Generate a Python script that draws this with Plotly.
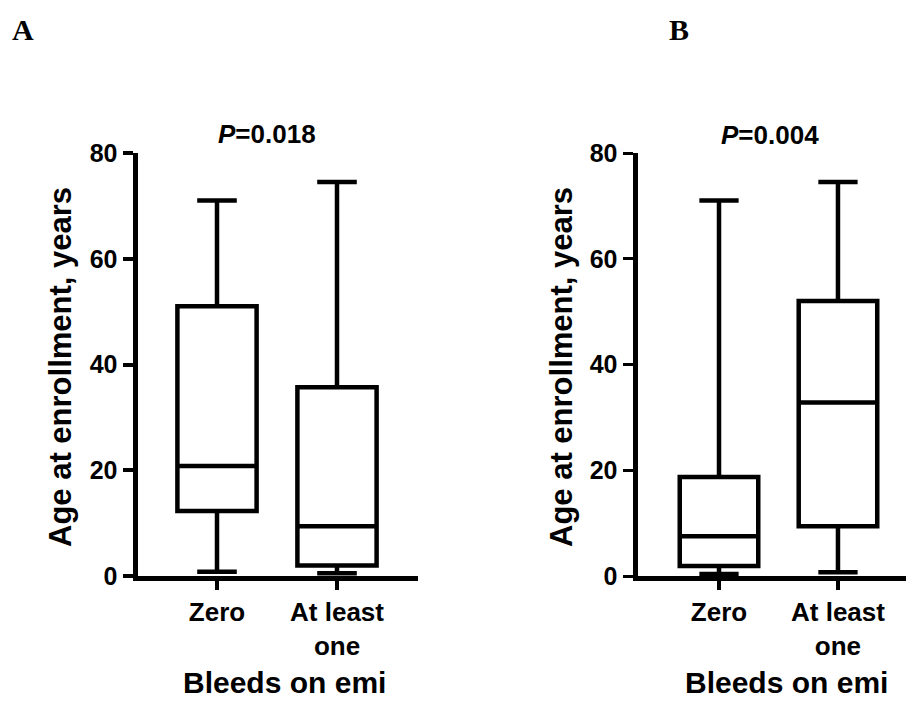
import plotly.graph_objects as go

# ---- data ----
categories = ["Zero", "At least one"]
tick_labels = ["Zero", "At least<br>one"]

# Panel A
a_min = [0.8, 0.5]
a_q1 = [12.3, 2.0]
a_median = [20.8, 9.4]
a_q3 = [51.0, 35.7]
a_max = [71.0, 74.5]
a_p = "<i>P</i>=0.018"

# Panel B
b_min = [0.4, 0.7]
b_q1 = [1.9, 9.4]
b_median = [7.5, 32.8]
b_q3 = [18.7, 52.0]
b_max = [71.0, 74.5]
b_p = "<i>P</i>=0.004"

y_ticks = [0, 20, 40, 60, 80]

FONT = "Liberation Sans, Arial, sans-serif"
SERIF = "Liberation Serif, Times New Roman, serif"
OFF = 8                      # page body margin of the html page
W, H = 914 - OFF, 702 - OFF  # figure size
TOP, BOTTOM = 145, 568       # plot area pixels (figure coords)

fig = go.Figure()

def add_box(xa, ya, lo, q1, med, q3, hi):
    fig.add_trace(go.Box(
        x=categories, q1=q1, median=med, q3=q3,
        lowerfence=lo, upperfence=hi,
        xaxis=xa, yaxis=ya,
        width=0.66, whiskerwidth=0.5,
        fillcolor="white",
        line=dict(color="black", width=4.5),
        boxpoints=False, showlegend=False, hoverinfo="skip",
    ))

add_box("x", "y", a_min, a_q1, a_median, a_q3, a_max)
add_box("x2", "y2", b_min, b_q1, b_median, b_q3, b_max)

def xaxis(domain, rng, anchor):
    return dict(
        domain=domain, range=rng, type="category", anchor=anchor,
        tickmode="array", tickvals=categories, ticktext=tick_labels,
        showline=True, linecolor="black", linewidth=5,
        ticks="outside", ticklen=9, tickwidth=4, tickcolor="black",
        showgrid=False, zeroline=False,
        tickfont=dict(family=FONT, size=26, color="black", weight="bold"),
    )

def yaxis(anchor, tw):
    return dict(
        domain=[0, 1], range=[0, 80], anchor=anchor,
        tickmode="array", tickvals=y_ticks,
        showline=True, linecolor="black", linewidth=5,
        ticks="outside", ticklen=10, tickwidth=tw, tickcolor="black",
        showgrid=False, zeroline=False,
        tickfont=dict(family=FONT, size=25, color="black", weight="bold"),
    )

# helpers: screen pixel -> paper coords
def px(x):
    return (x - OFF) / W

def py(y):
    return (BOTTOM - (y - OFF)) / (BOTTOM - TOP)

annotations = []
def text(x, y, s, size, angle=0, family=FONT, weight="bold"):
    annotations.append(dict(
        x=px(x), y=py(y), xref="paper", yref="paper", text=s,
        showarrow=False, textangle=angle, xanchor="center", yanchor="middle",
        font=dict(family=family, size=size, color="black", weight=weight),
    ))

# panel letters
text(23, 29, "A", 30, family=SERIF)
text(679, 29, "B", 30, family=SERIF)
# p-values
text(267, 134, a_p, 26)
text(770, 135, b_p, 26)
# axis titles
text(60, 367, "Age at enrollment, years", 31, angle=-90)
text(561, 367, "Age at enrollment, years", 31, angle=-90)
text(284, 682, "Bleeds on emi", 30)
text(786, 682, "Bleeds on emi", 30)

fig.update_layout(
    width=W, height=H,
    margin=dict(l=0, r=0, t=TOP, b=H - BOTTOM, pad=0),
    paper_bgcolor="white", plot_bgcolor="white",
    xaxis=xaxis([px(137.5), px(418)], [-0.6625, 1.675], "y"),
    yaxis=yaxis("x", 4),
    xaxis2=xaxis([px(637.5), 1.0], [-0.685, 1.639], "y2"),
    yaxis2=yaxis("x2", 3),
    annotations=annotations,
)

fig.write_html("out.html")
